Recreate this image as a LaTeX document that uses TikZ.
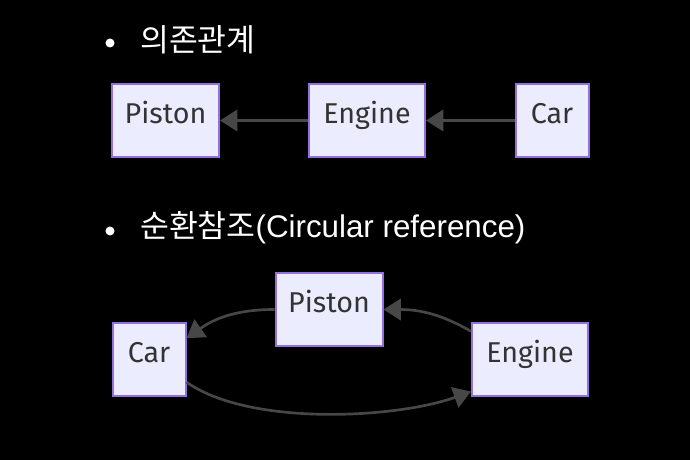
\documentclass[tikz,border=0pt]{standalone}
\usepackage{fontspec}
\setmainfont{Liberation Sans}
\newfontfamily\cjk{Noto Sans CJK KR}
\newfontfamily\boxfont{Fira Sans}
\usetikzlibrary{arrows.meta}
\definecolor{boxfill}{HTML}{ECECFF}
\definecolor{boxline}{HTML}{9370DB}
\definecolor{linkgray}{HTML}{474747}
\definecolor{labelgray}{HTML}{333333}

\begin{document}
\begin{tikzpicture}[x=0.75pt, y=-0.75pt,
    box/.style={draw=boxline, fill=boxfill, line width=1.5pt, minimum width=#1,
      minimum height=54.75pt, text height=15pt, text depth=10pt, inner sep=0pt,
      text=labelgray, font=\boxfont\fontsize{21.5}{24}\selectfont},
    link/.style={draw=linkgray, line width=2pt, -{Triangle[length=13pt, width=16pt]}},
    bullettext/.style={anchor=west, text=white, inner sep=0pt, font=\fontsize{23.5}{26}\selectfont}
    ]
    \fill[black] (0,0) rectangle (690,460);

    % dependency
    \fill[white] (110,43) circle (4.5);
    \node[bullettext] (t1) at (140,40) {\cjk 의존관계};
    \node[box=80.25pt] (p1) at (165.5,120.5) {Piston};
    \node[box=87pt] (e1) at (367,120.5) {Engine};
    \node[box=54.75pt] (c1) at (552,120.5) {Car};
 \draw [link] (e1) -- (p1);
 \draw [link] (c1) -- (e1);

    % circular reference
    \fill[white] (110,231) circle (4.5);
    \node[bullettext] (t2) at (140,228) {{\cjk 순환참조}(Circular reference)};
    \node[box=54.75pt] (c2) at (149,359.5) {Car};
    \node[box=80.25pt] (p2) at (329,309.5) {Piston};
    \node[box=87pt] (e2) at (530,359.5) {Engine};
 \draw [link] (p2.west) to[out=180, in=35] ([yshift=16pt]c2.east);
 \draw [link] ([yshift=-7pt]e2.north west) to[out=150, in=0] (p2.east);
 \draw [link] ([yshift=-17pt]c2.east) to[out=-35, in=200, looseness=0.7] ([yshift=-24pt]e2.west);

 \end{tikzpicture}
\end{document}
